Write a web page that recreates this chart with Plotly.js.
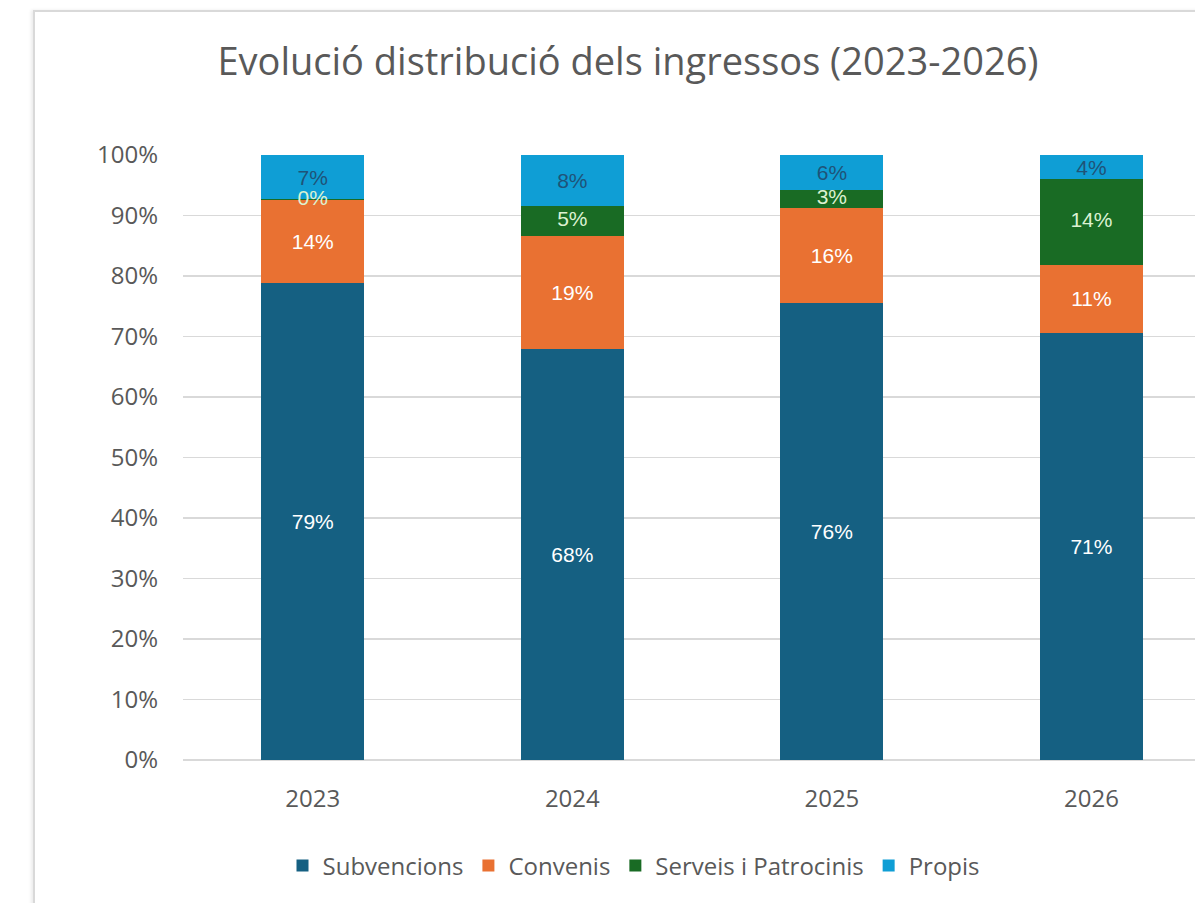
<!DOCTYPE html>
<html>
<head>
<meta charset="utf-8">
<script src="https://cdn.plot.ly/plotly-3.0.1.min.js"></script>
<style>
  html, body { margin: 0; padding: 0; background: #ffffff; overflow: hidden; }
  #chart { width: 1195px; height: 903px; position: absolute; left: 0; top: 0; }
  #frame { position: absolute; left: 33px; top: 10px; width: 1300px; height: 1000px;
           border: 2px solid #d9d9d9; box-sizing: border-box; pointer-events: none;
           box-shadow: -2px 0 3px rgba(0,0,0,0.08); }
</style>
</head>
<body>
<div id="chart"></div>
<div id="frame"></div>
<script>
const years = ['2023', '2024', '2025', '2026'];
const subvencions = [78.9, 68.0, 75.6, 70.6];
const convenis = [13.6, 18.6, 15.6, 11.2];
const serveis = [0.2, 5.0, 3.0, 14.2];
const propis = [7.3, 8.4, 5.8, 4.0];
const seriesNames = ['Subvencions', 'Convenis', 'Serveis i Patrocinis', 'Propis'];
const yTickVals = [0, 10, 20, 30, 40, 50, 60, 70, 80, 90, 100];
const yTickText = ['0%', '10%', '20%', '30%', '40%', '50%', '60%', '70%', '80%', '90%', '100%'];

const colors = ['#156082', '#E97132', '#196B24', '#0F9ED5'];
const labelColors = ['#ffffff', '#ffffff', '#dcf2d2', '#1f5378'];
const values = [subvencions, convenis, serveis, propis];
const FONT = 'Open Sans, Noto Sans, sans-serif';
const LABEL_FONT = 'Liberation Sans, Arial, sans-serif';
const LABEL_SIZE = 21;

const traces = values.map((v, i) => ({
  type: 'bar',
  name: seriesNames[i],
  x: years,
  y: v,
  marker: { color: colors[i], line: { width: 0 } },
  texttemplate: '%{y:.0f}%',
  textposition: i === 2 ? 'none' : 'inside',
  insidetextanchor: 'middle',
  textangle: 0,
  textfont: { family: LABEL_FONT, size: LABEL_SIZE, color: labelColors[i] },
  hoverinfo: 'skip'
}));

// Labels for the thin "Serveis i Patrocinis" segments, drawn above all bars
const serveisMid = years.map((_, k) => subvencions[k] + convenis[k] + serveis[k] / 2);
traces.push({
  type: 'scatter',
  mode: 'text',
  x: years,
  y: serveisMid,
  text: serveis.map(v => Math.round(v) + '%'),
  textposition: 'middle center',
  textfont: { family: LABEL_FONT, size: LABEL_SIZE, color: labelColors[2] },
  showlegend: false,
  hoverinfo: 'skip',
  cliponaxis: false
});

const layout = {
  width: 1195,
  height: 903,
  barmode: 'stack',
  bargap: 0.603,
  paper_bgcolor: '#ffffff',
  plot_bgcolor: '#ffffff',
  margin: { l: 183, r: 0, t: 155, b: 143 },
  uniformtext: { mode: 'show', minsize: LABEL_SIZE },
  font: { family: FONT, color: '#595959' },
  title: {
    text: 'Evolució distribució dels ingressos (2023-2026)',
    font: { family: FONT, size: 38, color: '#595959' },
    xref: 'container', x: 628 / 1195, xanchor: 'center',
    yref: 'container', y: 1 - 62 / 903, yanchor: 'middle'
  },
  xaxis: {
    type: 'category',
    range: [-0.5, 3.399],
    showgrid: false,
    showline: false,
    zeroline: false,
    ticks: '',
    ticklabelstandoff: 22,
    tickfont: { family: FONT, size: 24, color: '#595959' }
  },
  yaxis: {
    range: [0, 100],
    tickmode: 'array',
    tickvals: yTickVals,
    ticktext: yTickText,
    showgrid: true,
    gridcolor: '#d9d9d9',
    gridwidth: 1.5,
    zeroline: true,
    zerolinecolor: '#d9d9d9',
    zerolinewidth: 1.5,
    showline: false,
    ticks: '',
    ticklabelstandoff: 24,
    tickfont: { family: FONT, size: 24, color: '#595959' }
  },
  showlegend: true,
  legend: {
    orientation: 'h',
    xref: 'container', yref: 'container',
    x: 634 / 1195, xanchor: 'center',
    y: 1 - 866 / 903, yanchor: 'middle',
    font: { family: FONT, size: 24, color: '#595959' },
    traceorder: 'normal',
    itemwidth: 30,
    tracegroupgap: 0
  }
};

Plotly.newPlot('chart', traces, layout, { displayModeBar: false, staticPlot: true });
</script>
</body>
</html>
